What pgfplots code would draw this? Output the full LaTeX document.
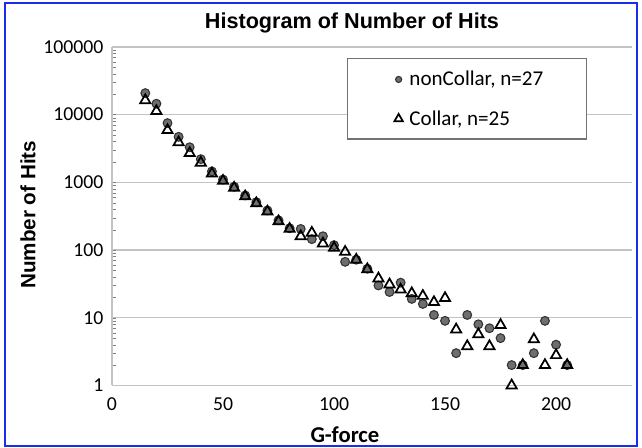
\documentclass[border=0pt]{standalone}
\usepackage{fontspec}
\setmainfont{Carlito}
\newfontfamily\arialfont{Liberation Sans}
\usepackage{pgfplots}
\usepackage{pgfplotstable}
\pgfplotsset{compat=1.18}

\definecolor{gridgray}{RGB}{195,195,195}
\definecolor{dotfill}{RGB}{110,110,110}
\definecolor{dotedge}{RGB}{50,50,50}
\definecolor{frameblue}{RGB}{25,45,235}

% G-force bin, nonCollar hits, Collar hits
\pgfplotstableread{
g   nc     c
15  20800  16300
20  14500  11300
25  7500   5900
30  4700   3900
35  3300   2700
40  2200   1950
45  1450   1350
50  1100   1050
55  860    830
60  640    620
65  510    490
70  385    370
75  275    265
80  210    205
85  205    160
90  145    180
95  160    125
100 118    108
105 67     94
110 72     72
115 53     52
120 30     38
125 24     31
130 33     26
135 19     23
140 16     21
145 11     17
150 9      19.5
155 3      6.7
160 11     3.8
165 8      5.7
170 7      3.8
175 5      7.8
180 2      1
185 2      2
190 3      4.8
195 9      2
200 4      2.8
205 2      2
}\hits

\begin{document}
\begin{tikzpicture}
\useasboundingbox (-84pt,-46.9pt) rectangle (397.5pt,289.1pt);
\begin{axis}[
    scale only axis,
    width=390pt, height=253.9pt,
    xmin=0, xmax=234.2,
    ymode=log, ymin=1, ymax=100000,
    axis x line*=bottom, axis y line*=left,
    axis line style={gridgray, line width=0.9pt, -},
    xtick={0,50,100,150,200},
    ytick={1,10,100,1000,10000,100000},
    yticklabels={1,10,100,1000,10000,100000},
    major tick length=0pt,
    ymajorgrids,
    grid style={gridgray, line width=0.9pt},
    tick label style={font=\fontsize{14.8}{16}\selectfont},
    /pgf/number format/assume math mode=true,
    xticklabel style={yshift=-6pt},
    yticklabel style={xshift=-3pt},
    clip=false,
    legend style={at={(0.535,0.945)}, anchor=north west, draw=none, fill=none,
        font=\fontsize{15.8}{17}\selectfont, row sep=13pt, column sep=3pt,
        cells={anchor=west}},
]
\filldraw[fill=white, draw=gray!90!black, line width=0.8pt]
    (rel axis cs:0.452,0.728) rectangle (rel axis cs:0.913,0.9645);

\addplot[only marks, mark=*, mark size=3.3pt,
    mark options={fill=dotfill, draw=dotedge, line width=0.8pt},
    legend image post style={mark size=2.3pt}]
    table[x=g, y=nc] {\hits};
\addlegendentry{nonCollar, n=27}

\addplot[only marks, mark=triangle, mark size=4.4pt,
    mark options={draw=black, line width=1.3pt, fill=none},
    legend image post style={mark size=3.6pt, line width=1pt}]
    table[x=g, y=c] {\hits};
\addlegendentry{Collar, n=25}

\node[font=\arialfont\bfseries\fontsize{16.2}{18}\selectfont]
    at (rel axis cs:0.4615,1) [yshift=18pt] {Histogram of Number of Hits};
\node[font=\bfseries\fontsize{17}{19}\selectfont]
    at (rel axis cs:0.448,0) [yshift=-37pt] {G-force};
\node[rotate=90, font=\arialfont\bfseries\fontsize{15.5}{17}\selectfont]
    at ([xshift=-63pt]rel axis cs:0,0.504) {Number of Hits};
\end{axis}
\draw[frameblue, line width=2pt] (-80.25pt,-45.4pt) rectangle (393.75pt,286.9pt);
\end{tikzpicture}
\end{document}
